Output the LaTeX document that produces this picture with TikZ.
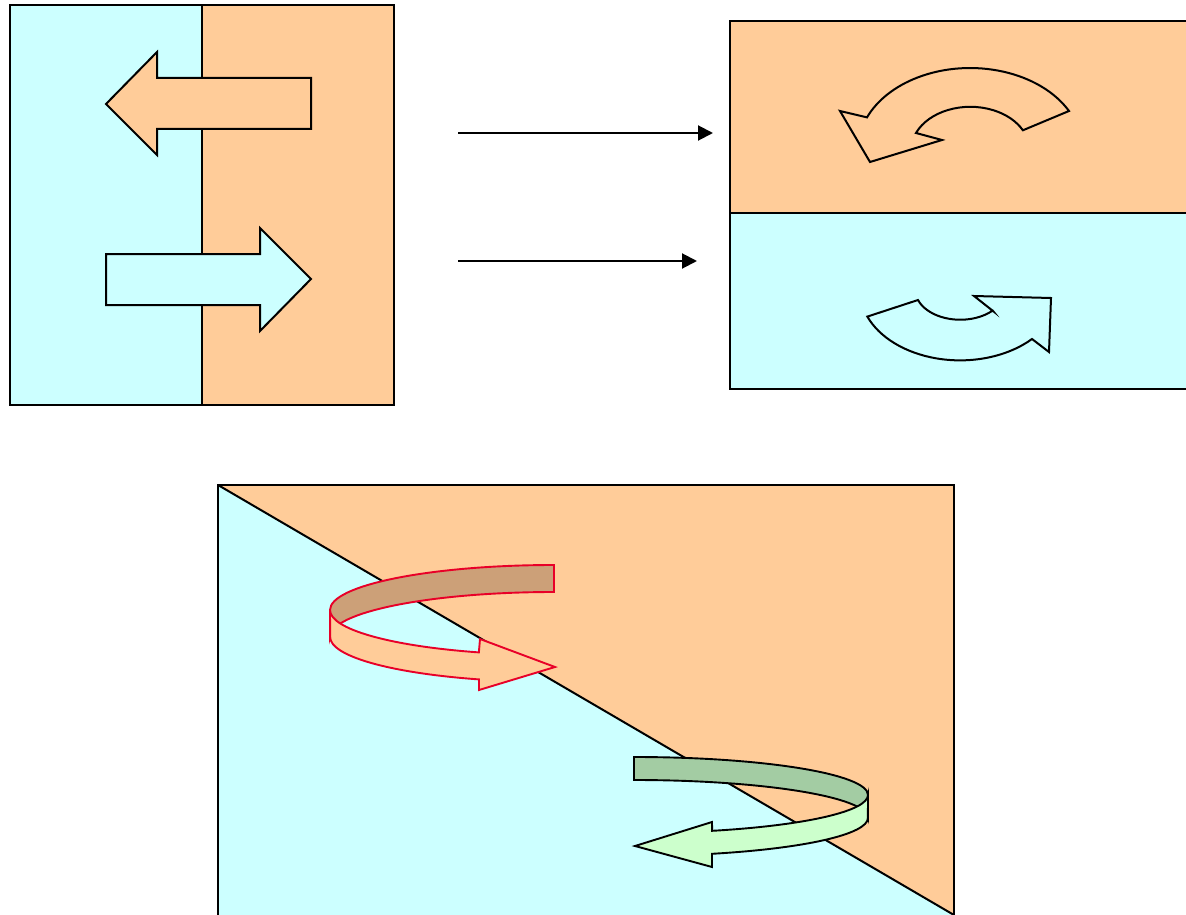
\documentclass[tikz,border=0pt]{standalone}
\usetikzlibrary{arrows.meta}
\definecolor{paleCyan}{RGB}{204,255,255}
\definecolor{peach}{RGB}{255,204,153}
\definecolor{ribbonRed}{RGB}{232,0,40}
\definecolor{ribbonTan}{RGB}{204,160,120}
\definecolor{sage}{RGB}{163,204,163}
\definecolor{mint}{RGB}{204,255,204}
\begin{document}
\begin{tikzpicture}[x=1pt,y=-1pt,
  outline/.style={draw=black, line width=2pt, line join=miter},
  redband/.style={draw=ribbonRed, line width=1.9pt, line join=miter},
  greenband/.style={draw=black, line width=1.9pt, line join=miter},
  connector/.style={draw=black, line width=2pt, -{Triangle[length=15pt,width=15pt]}}]
\clip (0,0) rectangle (1186,915);

% ---- left panel: two halves with opposite flat arrows
\fill[paleCyan] (10,5) rectangle (202,405);
\fill[peach] (202,5) rectangle (394,405);
\draw[outline] (202,5) -- (202,405);
\draw[outline, fill=peach] (106,104) -- (157,52) -- (157,78) -- (311,78) -- (311,129)
  -- (157,129) -- (157,155) -- cycle;
\draw[outline, fill=paleCyan] (106,254) -- (260,254) -- (260,228) -- (311,279)
  -- (260,331) -- (260,305) -- (106,305) -- cycle;
\draw[outline] (10,5) rectangle (394,405);

% ---- connectors
\coordinate (upperFrom) at (458,133);
\coordinate (upperTo) at (713,133);
\coordinate (lowerFrom) at (458,261);
\coordinate (lowerTo) at (697,261);
\draw[connector] (upperFrom) -- (upperTo);
\draw[connector] (lowerFrom) -- (lowerTo);

% ---- right panel: stacked halves with curved arrows
\fill[peach] (730,21) rectangle (1200,213);
\fill[paleCyan] (730,213) rectangle (1200,389);
\draw[outline] (730,213) -- (1200,213);
\draw[outline] (1200,21) -- (730,21) -- (730,389) -- (1200,389);

\draw[outline, fill=peach] (1069,111)
  arc[start angle=332, end angle=203, x radius=112, y radius=81]
  -- (840,111) -- (870,162) -- (942,140) -- (916,133)
  arc[start angle=203, end angle=333, x radius=59, y radius=43] -- cycle;

\draw[outline, fill=paleCyan] (993,311) -- (974,296) -- (1051,298) -- (1049,352) -- (1032,339)
  arc[start angle=44, end angle=158, x radius=100, y radius=70]
  -- (918,300)
  arc[start angle=160, end angle=44, x radius=45, y radius=30] -- cycle;

% ---- bottom panel: diagonal split with ribbon arrows
\fill[peach] (218,485) -- (954,485) -- (954,915) -- cycle;
\fill[paleCyan] (218,485) -- (954,915) -- (954,925) -- (218,925) -- cycle;
\draw[outline] (218,485) -- (954,915);
\draw[outline] (218,925) -- (218,485) -- (954,485) -- (954,925);

% red ribbon: back then front
\draw[redband, fill=ribbonTan] (554,565)
  arc[start angle=270, end angle=180, x radius=224, y radius=45]
  -- (330,637)
  arc[start angle=180, end angle=270, x radius=224, y radius=45] -- cycle;
\draw[redband, fill=peach] (330,610)
  arc[start angle=180, end angle=109.6, x radius=224, y radius=45]
  -- (480,639) -- (555,667) -- (479,690) -- (479,679.4)
  arc[start angle=109.6, end angle=180, x radius=224, y radius=45] -- cycle;

% green ribbon: back then front
\draw[greenband, fill=sage] (634,757)
  arc[start angle=270, end angle=360, x radius=234, y radius=38]
  -- (868,818)
  arc[start angle=0, end angle=-90, x radius=234, y radius=38] -- cycle;
\draw[greenband, fill=mint] (868,795)
  arc[start angle=0, end angle=70.5, x radius=234, y radius=38]
  -- (712,822) -- (635,846) -- (712,867) -- (712,853.8)
  arc[start angle=70.5, end angle=0, x radius=234, y radius=38] -- cycle;
\end{tikzpicture}
\end{document}
